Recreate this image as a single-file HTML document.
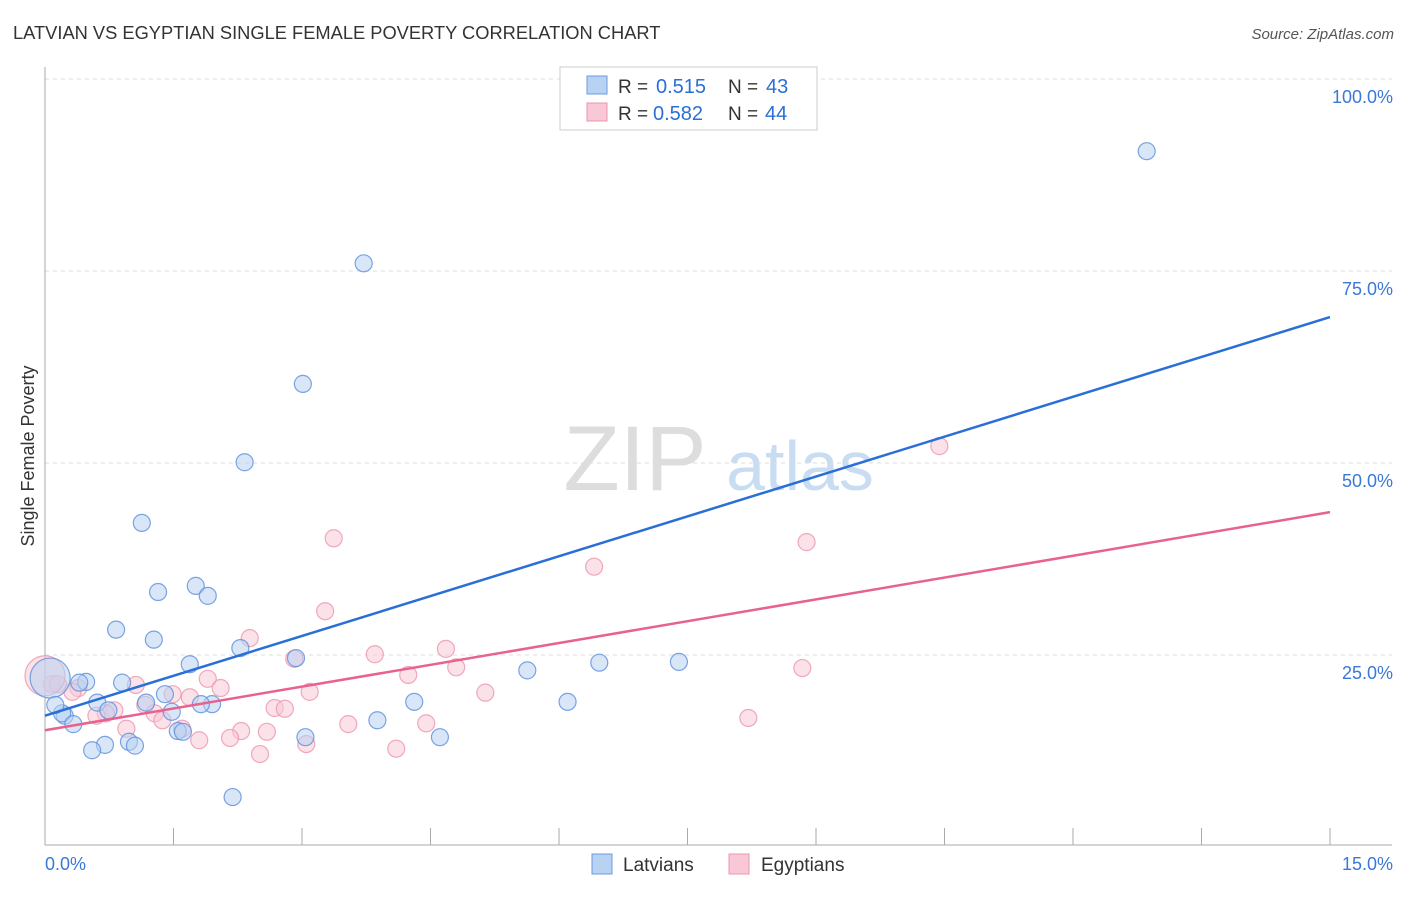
<!DOCTYPE html>
<html><head><meta charset="utf-8"><style>
body{margin:0;background:#fff;font-family:"Liberation Sans",sans-serif}
svg text{font-family:"Liberation Sans",sans-serif}
</style></head><body>
<svg id="chart" width="1406" height="892" xmlns="http://www.w3.org/2000/svg">
<text x="13" y="39" font-size="18.3" fill="#333">LATVIAN VS EGYPTIAN SINGLE FEMALE POVERTY CORRELATION CHART</text>
<text x="1394" y="39" font-size="15" fill="#555" font-style="italic" text-anchor="end">Source: ZipAtlas.com</text>
<text x="34" y="456" font-size="18" fill="#333" transform="rotate(-90 34 456)" text-anchor="middle">Single Female Poverty</text>
<g><text x="635" y="490" font-size="92" fill="#ddd" font-family="Liberation Serif" text-anchor="middle">ZIP</text><text x="800" y="490" font-size="70" fill="#c8dcf2" text-anchor="middle">atlas</text></g>
<g id="grid"></g><g id="marks"></g>
<g>
<rect x="560" y="67" width="257" height="63" fill="#fff" stroke="#ccc"/>
<rect x="587" y="76" width="20" height="18" fill="#b8d2f2" stroke="#6a9be0"/>
<rect x="587" y="103" width="20" height="18" fill="#f8c8d6" stroke="#ec95ae"/>
<text x="618" y="93" font-size="19" fill="#333">R =</text>
<text x="656" y="93" font-size="20" fill="#2a6fd6">0.515</text>
<text x="728" y="93" font-size="19" fill="#333">N =</text>
<text x="766" y="93" font-size="20" fill="#2a6fd6">43</text>
<text x="618" y="120" font-size="19" fill="#333">R =</text>
<text x="653" y="120" font-size="20" fill="#2a6fd6">0.582</text>
<text x="728" y="120" font-size="19" fill="#333">N =</text>
<text x="765" y="120" font-size="20" fill="#2a6fd6">44</text>
</g>
<g>
<rect x="592" y="854" width="20" height="20" fill="#b8d2f2" stroke="#6a9be0"/>
<text x="623" y="871" font-size="19" fill="#333">Latvians</text>
<rect x="729" y="854" width="20" height="20" fill="#f8c8d6" stroke="#ec95ae"/>
<text x="761" y="871" font-size="19" fill="#333">Egyptians</text>
</g>
</svg>
<script>
const xTicks=[0,1.5,3,4.5,6,7.5,9,10.5,12,13.5,15];
const yTicks=[25,50,75,100];
const yTickLabels=["25.0%","50.0%","75.0%","100.0%"];
const xEndLabels=["0.0%","15.0%"];
const blueX=[12.86,3.72,3.01,2.33,1.13,1.32,1.76,1.90,0.83,1.27,2.28,2.93,1.69,5.63,6.47,7.40,0.90,0.48,0.40,1.40,0.61,1.18,1.95,1.82,1.48,0.74,6.10,4.31,3.88,0.23,0.20,0.33,1.55,1.61,3.04,4.61,0.98,1.05,0.70,0.55,2.19,0.06,0.12];
const blueY=[90.6,76.0,60.3,50.1,42.2,33.2,34.0,32.7,28.3,27.0,25.9,24.6,23.8,23.0,24.0,24.1,21.4,21.5,21.4,19.9,18.8,18.8,18.6,18.6,17.6,17.8,18.9,18.9,16.5,17.1,17.4,16.0,15.1,15.0,14.3,14.3,13.7,13.2,13.3,12.6,6.5,22.0,18.5];
const pinkX=[10.44,3.37,8.89,6.41,3.27,2.39,4.68,2.91,3.85,4.80,8.84,4.24,1.90,1.06,0.39,2.05,3.09,5.14,1.69,1.49,0.08,0.32,0.15,2.68,2.80,0.81,0.71,1.17,1.28,0.60,1.37,1.60,0.95,2.29,3.54,4.45,2.59,8.21,1.80,2.16,3.05,4.10,2.51,0.0];
const pinkY=[52.2,40.2,39.7,36.5,30.7,27.2,25.8,24.5,25.1,23.4,23.3,22.4,21.9,21.1,20.7,20.7,20.2,20.1,19.5,19.9,21.2,20.2,21.2,18.1,18.0,17.8,17.4,18.5,17.4,17.1,16.5,15.4,15.4,15.1,16.0,16.1,15.0,16.8,13.9,14.2,13.4,12.8,12.1,22.3];
const blueBig=[41];const pinkBig=[43];
const blueTrend=[17.1,69.0];
const pinkTrend=[15.2,43.6];
const trendX=[0,15];
const NS="http://www.w3.org/2000/svg";
const sx=v=>45+v/15*1285, sy=v=>847-v/25*192;
function mk(t,a,p){const e=document.createElementNS(NS,t);for(const k in a)e.setAttribute(k,a[k]);p.appendChild(e);return e;}
const grid=document.getElementById('grid'),marks=document.getElementById('marks');
yTicks.forEach((v,i)=>{
 const l=mk('line',{x1:45,x2:1392,y1:sy(v),y2:sy(v),stroke:'#ddd','stroke-dasharray':'4,4'},grid);
 
 
 const t=mk('text',{x:1393,y:sy(v)+24,'font-size':18,fill:'#3a78d8','text-anchor':'end'},grid);t.textContent=yTickLabels[i];
 
 
});
mk('line',{x1:45,x2:45,y1:67,y2:845,stroke:'#aaa'},grid);
mk('line',{x1:45,x2:1392,y1:845,y2:845,stroke:'#aaa'},grid);
xTicks.forEach(v=>{const l=mk('line',{x1:sx(v),x2:sx(v),y1:828,y2:845,stroke:'#aaa'},grid);
 
 });
[[0,'start',45],[1,'end',1393]].forEach(([i,a,x])=>{const t=mk('text',{x:x,y:870,'font-size':18,fill:'#3a78d8','text-anchor':a},grid);t.textContent=xEndLabels[i];
 
 });
function pts(X,Y,big,fill,stroke,name){X.forEach((x,i)=>{const c=mk('circle',{cx:sx(x),cy:sy(Y[i]),r:big.includes(i)?20:8.5,fill:fill,'fill-opacity':0.55,stroke:stroke,'stroke-opacity':0.8,'stroke-width':1.2},marks);
 
 });}
pts(pinkX,pinkY,pinkBig,'#f8c8d6','#ec95ae','egyptian-point');
pts(blueX,blueY,blueBig,'#b8d2f2','#5b8fdc','latvian-point');
const b=mk('line',{x1:sx(trendX[0]),y1:sy(blueTrend[0]),x2:sx(trendX[1]),y2:sy(blueTrend[1]),stroke:'#2a6fd6','stroke-width':2.5},marks);


const p=mk('line',{x1:sx(trendX[0]),y1:sy(pinkTrend[0]),x2:sx(trendX[1]),y2:sy(pinkTrend[1]),stroke:'#e8628e','stroke-width':2.5},marks);


</script>
</body></html>
